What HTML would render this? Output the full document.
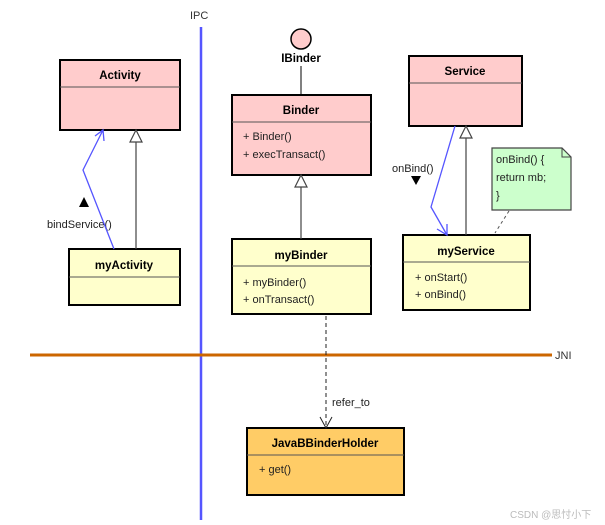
<!DOCTYPE html>
<html><head><style>body{margin:0;background:#fff}svg{display:block}</style></head><body>
<svg width="605" height="525" xmlns="http://www.w3.org/2000/svg" font-family="Liberation Sans, Noto Sans CJK SC, sans-serif" font-size="11">
<line x1="201" y1="27" x2="201" y2="520" stroke="#5555ff" stroke-width="2.5"/>
<text x="190" y="19" fill="#333">IPC</text>
<line x1="30" y1="355" x2="552" y2="355" stroke="#cc6600" stroke-width="3"/>
<text x="555" y="359" fill="#333">JNI</text>
<g stroke="#000" stroke-width="2">
<rect x="60" y="60" width="120" height="70" fill="#ffcccc"/>
<rect x="69" y="249" width="111" height="56" fill="#ffffcc"/>
<rect x="232" y="95" width="139" height="80" fill="#ffcccc"/>
<rect x="232" y="239" width="139" height="75" fill="#ffffcc"/>
<rect x="409" y="56" width="113" height="70" fill="#ffcccc"/>
<rect x="403" y="235" width="127" height="75" fill="#ffffcc"/>
<rect x="247" y="428" width="157" height="67" fill="#ffcc66"/>
</g>
<g stroke="#555" stroke-width="1">
<line x1="60" y1="87" x2="180" y2="87"/>
<line x1="69" y1="277" x2="180" y2="277"/>
<line x1="232" y1="122" x2="371" y2="122"/>
<line x1="232" y1="266" x2="371" y2="266"/>
<line x1="409" y1="83" x2="522" y2="83"/>
<line x1="403" y1="262" x2="530" y2="262"/>
<line x1="247" y1="455" x2="404" y2="455"/>
</g>
<g font-weight="bold" text-anchor="middle" font-size="11.5">
<text x="120" y="79">Activity</text>
<text x="124" y="269">myActivity</text>
<text x="301" y="114">Binder</text>
<text x="301" y="259">myBinder</text>
<text x="465" y="75">Service</text>
<text x="466" y="255">myService</text>
<text x="325" y="447">JavaBBinderHolder</text>
<text x="301" y="62">IBinder</text>
</g>
<g fill="#222">
<text x="243" y="140">+ Binder()</text>
<text x="243" y="158">+ execTransact()</text>
<text x="243" y="286">+ myBinder()</text>
<text x="243" y="303">+ onTransact()</text>
<text x="415" y="281">+ onStart()</text>
<text x="415" y="298">+ onBind()</text>
<text x="259" y="473">+ get()</text>
<text x="47" y="228">bindService()</text>
<text x="392" y="172">onBind()</text>
<text x="332" y="406">refer_to</text>
</g>
<circle cx="301" cy="39" r="10" fill="#ffcccc" stroke="#000" stroke-width="1.5"/>
<line x1="301" y1="66" x2="301" y2="95" stroke="#000"/>
<g stroke="#444" stroke-width="1.2" fill="#fff">
<line x1="136" y1="142" x2="136" y2="249"/><polygon points="136,130 130,142 142,142"/>
<line x1="301" y1="187" x2="301" y2="239"/><polygon points="301,175 295,187 307,187"/>
<line x1="466" y1="138" x2="466" y2="235"/><polygon points="466,126 460,138 472,138"/>
</g>
<g stroke="#5555ff" stroke-width="1.3" fill="none">
<polyline points="114,249 83,170 103,130"/><polyline points="95,136 103,130 104,141"/>
<polyline points="455,126 431,207 447,235"/><polyline points="437,229 447,235 447,224"/>
</g>
<polygon points="84,197 79,207 89,207" fill="#000"/>
<polygon points="411,176 421,176 416,185" fill="#000"/>
<path d="M492 148 H562 L571 157 V210 H492 Z" fill="#ccffcc" stroke="#444" stroke-width="1.2"/>
<path d="M562 148 V157 H571" fill="none" stroke="#444"/>
<text x="496" y="163" fill="#222">onBind() {</text>
<text x="496" y="181" fill="#222">return mb;</text>
<text x="496" y="199" fill="#222">}</text>
<line x1="509" y1="211" x2="495" y2="233" stroke="#555" stroke-dasharray="3,3"/>
<line x1="326" y1="316" x2="326" y2="427" stroke="#222" stroke-dasharray="4,3"/>
<polyline points="320,417 326,428 332,417" fill="none" stroke="#222"/>
<text x="510" y="518" fill="#bbb" font-size="10">CSDN @思忖小下</text>
</svg>
</body></html>
